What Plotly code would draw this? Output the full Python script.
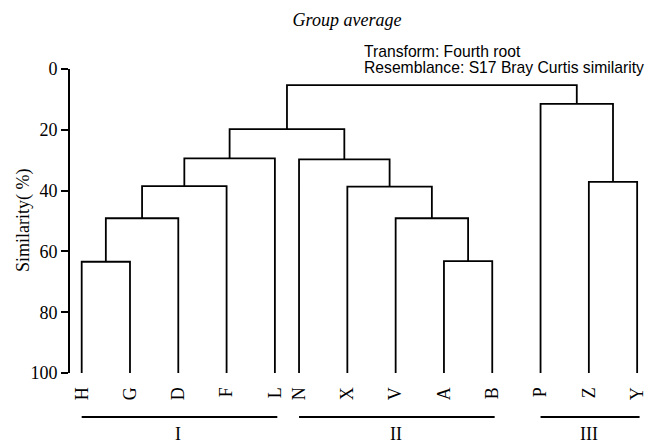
import plotly.graph_objects as go

# leaf order along the x axis
leaves = ["H", "G", "D", "F", "L", "N", "X", "V", "A", "B", "P", "Z", "Y"]

# agglomeration steps: children (leaf name or "c<step>") and similarity (%)
merge_left = ["H", "c0", "c1", "c2", "A", "V", "X", "N", "c3", "Z", "P", "c8"]
merge_right = ["G", "D", "F", "L", "B", "c4", "c5", "c6", "c7", "Y", "c9", "c10"]
merge_sim = [63.4, 49.1, 38.5, 29.4, 63.2, 49.1, 38.7, 29.7, 19.8, 37.1, 11.5, 5.3]

# groups shown under the leaves
group_names = ["I", "II", "III"]
group_first = ["H", "N", "P"]
group_last = ["L", "B", "Y"]

similarity_ticks = [0, 20, 40, 60, 80, 100]

W, H = 660, 446
ML, MR, MT, MB = 70, 10, 69, 73


def px_x(px):
    # page pixel -> paper x
    return (px - ML) / (W - ML - MR)


def px_y(py):
    # page pixel -> paper y
    return (H - MB - py) / (H - MT - MB)


# leaf positions (L and N sit closer together in the original)
leaf_x = {}
pos = 0.0
for i, name in enumerate(leaves):
    if i > 0:
        pos += 0.5 if name == "N" else 1.0
    leaf_x[name] = pos

node_x = dict(leaf_x)
node_h = {name: 100.0 for name in leaves}

xs, ys = [], []
for k, (a, b, h) in enumerate(zip(merge_left, merge_right, merge_sim)):
    xa, xb = node_x[a], node_x[b]
    xs += [xa, xa, xb, xb, None]
    ys += [node_h[a], h, h, node_h[b], None]
    node_x["c%d" % k] = (xa + xb) / 2
    node_h["c%d" % k] = h

serif = "Liberation Serif, Times New Roman, serif"
sans = "Liberation Sans, Arial, sans-serif"

fig = go.Figure()
fig.add_trace(go.Scatter(x=xs, y=ys, mode="lines",
                         line=dict(color="black", width=1.8),
                         hoverinfo="skip", showlegend=False))

# group bars and roman numerals
for name, first, last in zip(group_names, group_first, group_last):
    x0, x1 = leaf_x[first], leaf_x[last]
    fig.add_shape(type="line", xref="x", yref="paper", x0=x0, x1=x1 + 0.05,
                  y0=px_y(417), y1=px_y(417), line=dict(color="black", width=1.8))
    fig.add_annotation(x=(x0 + x1) / 2, xref="x", y=px_y(434), yref="paper",
                       xanchor="center", yanchor="middle", borderpad=0,
                       text=name, showarrow=False,
                       font=dict(family=serif, size=18, color="black"))

fig.add_annotation(x=px_x(23), xref="paper", y=0.5, yref="paper",
                   xanchor="center", yanchor="middle",
                   text="Similarity( %)", textangle=-90, showarrow=False,
                   font=dict(family=serif, size=18, color="black"))

fig.add_annotation(x=px_x(362), xref="paper", y=px_y(52), yref="paper",
                   xanchor="left", yanchor="middle",
                   text="Transform: Fourth root", showarrow=False,
                   font=dict(family=sans, size=15.7, color="black"))
fig.add_annotation(x=px_x(362), xref="paper", y=px_y(67), yref="paper",
                   xanchor="left", yanchor="middle",
                   text="Resemblance: S17 Bray Curtis similarity",
                   showarrow=False, font=dict(family=sans, size=15.7, color="black"))

fig.update_layout(
    width=W, height=H,
    margin=dict(l=ML, r=MR, t=MT, b=MB),
    paper_bgcolor="white", plot_bgcolor="white",
    title=dict(text="<i>Group average</i>", x=347 / W, xanchor="center",
               y=1 - 20 / H, yanchor="middle",
               font=dict(family=serif, size=18, color="black")),
    xaxis=dict(range=[-0.242, 11.766], tickvals=[leaf_x[n] for n in leaves],
               ticktext=leaves, tickangle=-90, ticks="outside", ticklen=6,
               tickcolor="rgba(0,0,0,0)", showline=False, showgrid=False,
               zeroline=False, tickfont=dict(family=serif, size=18, color="black")),
    yaxis=dict(range=[100, 0], tickvals=similarity_ticks, showline=True,
               linewidth=2, linecolor="black", ticks="outside", ticklen=7,
               tickwidth=2, tickcolor="black", showgrid=False, zeroline=False,
               tickfont=dict(family=serif, size=18, color="black")),
)

fig.write_html("out.html", config={"displayModeBar": False},
               post_script="document.body.style.margin='0';")
